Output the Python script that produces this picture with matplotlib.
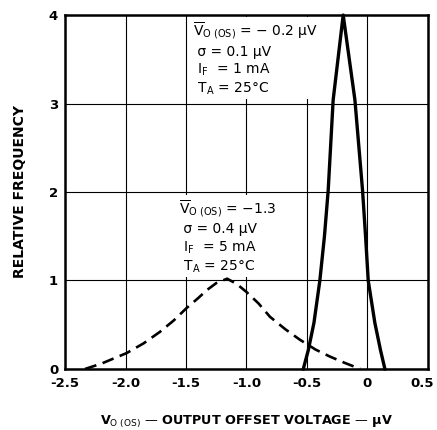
import matplotlib.pyplot as plt
import matplotlib.transforms as mtransforms

plt.rcParams['font.family'] = ['DejaVu Sans']
plt.rcParams['mathtext.fontset'] = 'dejavusans'

# I_F = 1 mA curve (solid)
x_1ma = [-0.53, -0.489, -0.442, -0.393, -0.355, -0.324, -0.283, -0.2,
         -0.103, -0.04, -0.015, 0.007, 0.062, 0.109, 0.145]
y_1ma = [0.0, 0.21, 0.52, 1.0, 1.5, 2.02, 3.04, 4.0,
         3.04, 2.02, 1.5, 1.0, 0.52, 0.21, 0.0]

# I_F = 5 mA curve (dashed)
x_5ma = [-2.335, -2.2, -1.99, -1.85, -1.715, -1.6, -1.494, -1.40, -1.329, -1.25,
         -1.16, -1.08, -1.0, -0.9, -0.806, -0.68, -0.558, -0.43, -0.31, -0.19, -0.06]
y_5ma = [0.0, 0.06, 0.18, 0.29, 0.42, 0.55, 0.69, 0.80, 0.89, 0.97,
         1.02, 0.96, 0.87, 0.74, 0.59, 0.45, 0.33, 0.22, 0.14, 0.07, 0.0]

xticks = [-2.5, -2.0, -1.5, -1.0, -0.5, 0.0, 0.5]
xlabels = ['-2.5', '-2.0', '-1.5', '-1.0', '-0.5', '0', '0.5']
yticks = [0, 1, 2, 3, 4]

fig = plt.figure(figsize=(4.37, 4.30), dpi=100)
ax = fig.add_axes([0.149, 0.142, 0.83, 0.823])

ax.plot(x_1ma, y_1ma, color='black', lw=2.4, solid_joinstyle='round', clip_on=False)
ax.plot(x_5ma, y_5ma, color='black', lw=1.9, dashes=(4.5, 2.5))

ax.set_xlim(-2.5, 0.5)
ax.set_ylim(0, 4)
ax.set_xticks(xticks)
ax.set_xticklabels(xlabels, fontweight='bold', fontsize=9.5)
ax.set_yticks(yticks)
ax.set_yticklabels([str(t) for t in yticks], fontweight='bold', fontsize=9.5)
ax.tick_params(length=0)
ax.tick_params(axis='x', pad=6)
ax.tick_params(axis='y', pad=5)
ax.grid(True, color='black', lw=0.8)
for s in ax.spines.values():
    s.set_linewidth(1.8)

# nudge the last x label so it stays inside the picture
last = ax.get_xticklabels()[-1]
last.set_transform(last.get_transform() + mtransforms.ScaledTranslation(-4 / 72, 0, fig.dpi_scale_trans))

ax.set_ylabel('RELATIVE FREQUENCY', fontweight='bold', fontsize=10, labelpad=16)
ax.set_xlabel(r'V$_{\mathrm{O\ (OS)}}$ — OUTPUT OFFSET VOLTAGE — μV', fontweight='bold', fontsize=9.2, labelpad=17)

txt1 = '\n'.join([r'$\overline{\mathrm{V}}_{\mathrm{O\ (OS)}}$ = − 0.2 μV',
                  ' σ = 0.1 μV',
                  r' I$_{\mathrm{F}}$  = 1 mA',
                  r' T$_{\mathrm{A}}$ = 25°C'])
txt2 = '\n'.join([r'$\overline{\mathrm{V}}_{\mathrm{O\ (OS)}}$ = −1.3',
                  ' σ = 0.4 μV',
                  r' I$_{\mathrm{F}}$  = 5 mA',
                  r' T$_{\mathrm{A}}$ = 25°C'])
ax.text(-1.44, 3.94, txt1, fontsize=10, va='top', ha='left', linespacing=1.25,
        bbox=dict(facecolor='white', edgecolor='none', pad=1))
ax.text(-1.56, 1.93, txt2, fontsize=10, va='top', ha='left', linespacing=1.25,
        bbox=dict(facecolor='white', edgecolor='none', pad=1))

fig.savefig('out.png', dpi=100)
